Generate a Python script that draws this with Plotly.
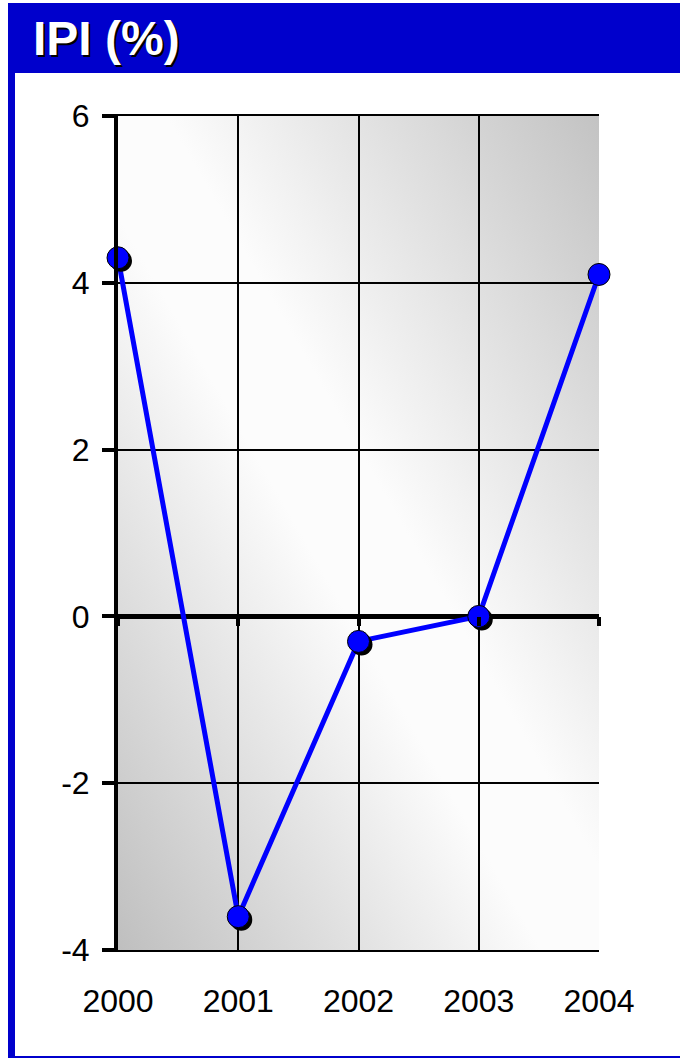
import base64
import plotly.graph_objects as go

# data
years = [2000, 2001, 2002, 2003, 2004]
ipi = [4.3, -3.6, -0.3, 0.0, 4.1]
y_ticks = [-4, -2, 0, 2, 4, 6]
title_text = "IPI (%)"

BLUE = "#0000ff"
FRAME = "#0000cc"
FONT = "Liberation Sans Narrow, Arial Narrow, Liberation Sans, Arial"

W, H = 680, 1061
L, R, T, B = 118, 81, 116, 111
pw, ph = W - L - R, H - T - B

# grey -> white -> grey diagonal wash behind the plot area
svg = (
    '<svg xmlns="http://www.w3.org/2000/svg" width="100" height="100" preserveAspectRatio="none">'
    '<defs><linearGradient id="g" x1="0" y1="1" x2="1" y2="0">'
    '<stop offset="0" stop-color="#bfbfbf"/>'
    '<stop offset="0.44" stop-color="#fcfcfc"/>'
    '<stop offset="0.55" stop-color="#fcfcfc"/>'
    '<stop offset="1" stop-color="#c3c3c3"/>'
    '</linearGradient></defs>'
    '<rect width="100" height="100" fill="url(#g)"/></svg>'
)
bg_src = "data:image/svg+xml;base64," + base64.b64encode(svg.encode()).decode()

# marker shadow offset (3 px right / down) in data units
dx = 3 * (years[-1] - years[0]) / pw
dy = 3 * (y_ticks[-1] - y_ticks[0]) / ph

fig = go.Figure()
fig.add_trace(go.Scatter(
    x=years, y=ipi, mode="lines",
    line=dict(color=BLUE, width=5),
    cliponaxis=False, hoverinfo="skip", showlegend=False,
))
fig.add_trace(go.Scatter(
    x=[v + dx for v in years], y=[v - dy for v in ipi], mode="markers",
    marker=dict(size=22, color="black"),
    cliponaxis=False, hoverinfo="skip", showlegend=False,
))
fig.add_trace(go.Scatter(
    x=years, y=ipi, mode="markers",
    marker=dict(size=22, color=BLUE, line=dict(color="black", width=1)),
    cliponaxis=False, showlegend=False,
    hovertemplate="%{x}: %{y}<extra></extra>",
))
# carrier for the tick marks drawn along the zero line
fig.add_trace(go.Scatter(
    x=years, y=ipi, xaxis="x2", mode="markers",
    marker=dict(opacity=0), hoverinfo="skip", showlegend=False,
))

zero_pos = (0 - y_ticks[0]) / (y_ticks[-1] - y_ticks[0])


def px_x(p):
    return (p - L) / pw


def px_y(p):
    return (H - B - p) / ph


fig.update_layout(
    width=W, height=H,
    margin=dict(l=L, r=R, t=T, b=B),
    paper_bgcolor="white",
    plot_bgcolor="rgba(0,0,0,0)",
    font=dict(family=FONT, color="black", size=32),
    showlegend=False,
    xaxis=dict(
        range=[years[0], years[-1]], tickvals=years, ticktext=[str(v) for v in years],
        showgrid=True, gridcolor="black", gridwidth=1.5,
        showline=True, linecolor="black", linewidth=2, mirror=True,
        zeroline=False, ticks="", ticklabelstandoff=22,
        tickfont=dict(size=32, family=FONT),
    ),
    xaxis2=dict(
        overlaying="x", anchor="free", position=zero_pos, side="bottom",
        range=[years[0], years[-1]], tickvals=years, showticklabels=False,
        ticks="outside", ticklen=9, tickwidth=3.5, tickcolor="black",
        showgrid=False, showline=False, zeroline=False,
    ),
    yaxis=dict(
        range=[y_ticks[0], y_ticks[-1]], tickvals=y_ticks,
        ticktext=[str(v) for v in y_ticks],
        showgrid=True, gridcolor="black", gridwidth=1.5,
        showline=True, linecolor="black", linewidth=4,
        zeroline=True, zerolinecolor="black", zerolinewidth=4.5,
        ticks="outside", ticklen=12, tickwidth=4, tickcolor="black",
        ticklabelstandoff=6,
        tickfont=dict(size=32, family=FONT),
    ),
    images=[dict(
        source=bg_src, xref="paper", yref="paper", x=0, y=1,
        sizex=1, sizey=1, xanchor="left", yanchor="top",
        sizing="stretch", layer="below",
    )],
    shapes=[
        # title band
        dict(type="rect", xref="paper", yref="paper", layer="below",
             x0=px_x(8), x1=px_x(W + 5), y0=px_y(73), y1=px_y(3),
             fillcolor=FRAME, line=dict(width=0)),
        # left bar
        dict(type="rect", xref="paper", yref="paper", layer="below",
             x0=px_x(8), x1=px_x(15), y0=px_y(1058), y1=px_y(73),
             fillcolor=FRAME, line=dict(width=0)),
        # bottom rule
        dict(type="rect", xref="paper", yref="paper", layer="below",
             x0=px_x(8), x1=px_x(W + 5), y0=px_y(1058), y1=px_y(1056),
             fillcolor=FRAME, line=dict(width=0)),
    ],
)

# title with a dark drop shadow
for off, col in [(2, "black"), (0, "white")]:
    fig.add_annotation(
        text=f"<b>{title_text}</b>", xref="paper", yref="paper",
        x=px_x(31 + off), y=px_y(39 + off), xanchor="left", yanchor="middle",
        showarrow=False, font=dict(family=FONT, size=48, color=col),
    )

fig.write_html(
    "out.html",
    config={"displayModeBar": False},
    post_script="document.body.style.margin='0px';",
)
